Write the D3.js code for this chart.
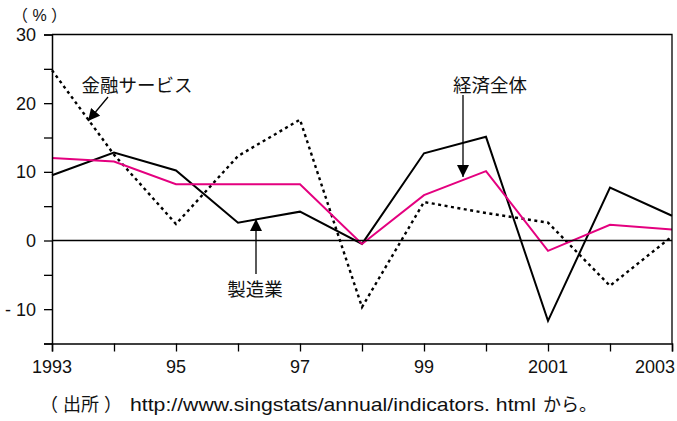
<!DOCTYPE html>
<html>
<head>
<meta charset="utf-8">
<script src="https://cdn.jsdelivr.net/npm/d3@7"></script>
<style>
  body { margin: 0; background: #fff; }
  svg text { font-family: "Liberation Sans", "Noto Sans CJK JP", sans-serif; fill: #111; }
</style>
</head>
<body>
<div id="chart"></div>
<script>
// data (annual growth, %)
var years = [1993, 1994, 1995, 1996, 1997, 1998, 1999, 2000, 2001, 2002, 2003];
var economy = [12.0, 11.5, 8.2, 8.2, 8.2, -0.5, 6.6, 10.1, -1.5, 2.3, 1.6];        // 経済全体
var manufacturing = [9.5, 12.8, 10.2, 2.6, 4.2, -0.5, 12.7, 15.1, -11.7, 7.7, 3.6]; // 製造業
var finance = [24.8, 12.5, 2.4, 12.3, 17.6, -9.7, 5.6, 4.0, 2.6, -6.6, 0.6];       // 金融サービス

var yTicks = [-15, -10, -5, 0, 5, 10, 15, 20, 25, 30];
var yLabels = [30, 20, 10, 0, -10];
var xLabels = [1993, 1995, 1997, 1999, 2001, 2003];

// plot box
var width = 677, height = 421;
var m = {left: 52, right: 672, top: 34.5, bottom: 343.5};

var svg = d3.select("#chart").append("svg")
    .attr("width", width)
    .attr("height", height);

var x = d3.scaleLinear().domain([1993, 2003]).range([m.left, m.right]);
var y = d3.scaleLinear().domain([-15, 30]).range([m.bottom, m.top]);

// arrow head
svg.append("defs").append("marker")
    .attr("id", "head")
    .attr("viewBox", "0 0 10 10")
    .attr("refX", 10).attr("refY", 5)
    .attr("markerWidth", 12).attr("markerHeight", 12)
    .attr("markerUnits", "userSpaceOnUse")
    .attr("orient", "auto")
  .append("path")
    .attr("d", "M0,0 L10,5 L0,10 Z")
    .attr("fill", "#000");

// series
var line = d3.line()
    .x(function(d, i) { return x(years[i]); })
    .y(function(d) { return y(d); });

svg.append("path")
    .datum(finance)
    .attr("d", line)
    .attr("fill", "none")
    .attr("stroke", "#000")
    .attr("stroke-width", 2.4)
    .attr("stroke-dasharray", "3,3.5");

svg.append("path")
    .datum(manufacturing)
    .attr("d", line)
    .attr("fill", "none")
    .attr("stroke", "#000")
    .attr("stroke-width", 2);

svg.append("path")
    .datum(economy)
    .attr("d", line)
    .attr("fill", "none")
    .attr("stroke", "#e4007f")
    .attr("stroke-width", 2);

// zero line
svg.append("line")
    .attr("x1", m.left).attr("x2", m.right)
    .attr("y1", y(0)).attr("y2", y(0))
    .attr("stroke", "#000").attr("stroke-width", 1.3);

// frame: top and right
svg.append("path")
    .attr("d", "M" + m.left + "," + m.top + " H" + m.right + " V" + m.bottom)
    .attr("fill", "none")
    .attr("stroke", "#000").attr("stroke-width", 1.3);

// y axis
var yAxis = svg.append("g")
    .attr("transform", "translate(" + m.left + ",0)")
    .call(d3.axisLeft(y).tickValues(yTicks).tickSize(8).tickFormat(""));
yAxis.select(".domain").attr("stroke-width", 1.5);
yAxis.selectAll(".tick line").attr("stroke-width", 1.3);

svg.selectAll(".ylab")
    .data(yLabels)
    .enter().append("text")
    .attr("class", "ylab")
    .attr("x", 36)
    .attr("y", function(d) { return y(d); })
    .attr("dy", "0.36em")
    .attr("text-anchor", "end")
    .style("font-size", "18px")
    .text(function(d) { return d < 0 ? "- " + Math.abs(d) : d; });

// x axis
var xAxis = svg.append("g")
    .attr("transform", "translate(0," + m.bottom + ")")
    .call(d3.axisBottom(x).tickValues(years).tickSize(8).tickFormat(""));
xAxis.select(".domain").attr("stroke-width", 1.5);
xAxis.selectAll(".tick line").attr("stroke-width", 1.3);

svg.selectAll(".xlab")
    .data(xLabels)
    .enter().append("text")
    .attr("class", "xlab")
    .attr("x", function(d, i) { return i === xLabels.length - 1 ? x(d) + 3 : x(d); })
    .attr("y", 373)
    .attr("text-anchor", function(d, i) { return i === xLabels.length - 1 ? "end" : "middle"; })
    .style("font-size", "18px")
    .text(function(d) {
      return (d === 1993 || d >= 2000) ? d : String(d).slice(2);
    });

// unit
svg.append("text")
    .attr("x", 12).attr("y", 21)
    .style("font-size", "16px")
    .text("（ % ）");

// labels and arrows
svg.append("text")
    .attr("x", 137).attr("y", 92)
    .attr("text-anchor", "middle")
    .style("font-size", "18.5px")
    .text("金融サービス");
svg.append("line")
    .attr("x1", 108).attr("y1", 97).attr("x2", 88).attr("y2", 121)
    .attr("stroke", "#000").attr("stroke-width", 1.3)
    .attr("marker-end", "url(#head)");

svg.append("text")
    .attr("x", 490).attr("y", 92)
    .attr("text-anchor", "middle")
    .style("font-size", "18.5px")
    .text("経済全体");
svg.append("line")
    .attr("x1", 463).attr("y1", 95).attr("x2", 463).attr("y2", 177)
    .attr("stroke", "#000").attr("stroke-width", 1.3)
    .attr("marker-end", "url(#head)");

svg.append("text")
    .attr("x", 255).attr("y", 296)
    .attr("text-anchor", "middle")
    .style("font-size", "18.5px")
    .text("製造業");
svg.append("line")
    .attr("x1", 256).attr("y1", 274).attr("x2", 256).attr("y2", 219)
    .attr("stroke", "#000").attr("stroke-width", 1.3)
    .attr("marker-end", "url(#head)");

// source note
var note = svg.append("text")
    .attr("y", 411)
    .style("font-size", "19px");
note.append("tspan").attr("x", 40).style("font-size", "18px").text("（ 出所 ）");
note.append("tspan").attr("x", 130)
    .attr("textLength", 406).attr("lengthAdjust", "spacingAndGlyphs")
    .text("http://www.singstats/annual/indicators. html");
note.append("tspan").attr("x", 543).style("font-size", "18px").text("から。");
</script>
</body>
</html>
